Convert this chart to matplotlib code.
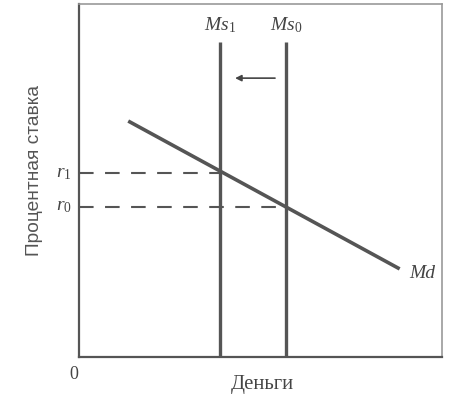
import matplotlib
matplotlib.use("Agg")
import matplotlib.pyplot as plt

# Data (abstract units, x: 0-10, y: 0-10)
ms_labels = ["Ms$_{\\mathrm{1}}$", "Ms$_{\\mathrm{0}}$"]
ms_x = [3.88, 5.70]
ms_top = 8.92
md_x = [1.40, 8.79]
md_y = [6.66, 2.52]
r_labels = ["r$_{\\mathrm{1}}$", "r$_{\\mathrm{0}}$"]
r_vals = [5.21, 4.25]
arrow_from = 5.40
arrow_to = 4.30
arrow_y = 7.90

plt.rcParams['mathtext.fontset'] = 'custom'
plt.rcParams['mathtext.rm'] = 'Liberation Serif'
plt.rcParams['mathtext.it'] = 'Liberation Serif:italic'

fig = plt.figure(figsize=(4.51, 4.00), dpi=100)
ax = fig.add_axes([79/451, 43/400, 363/451, 353/400])
ax.set_xlim(0, 10)
ax.set_ylim(0, 10)
ax.set_xticks([])
ax.set_yticks([])
for s in ['left', 'bottom']:
    ax.spines[s].set_color('#555555')
    ax.spines[s].set_linewidth(1.6)
for s in ['top', 'right']:
    ax.spines[s].set_color('#999999')
    ax.spines[s].set_linewidth(1.2)

line_col = '#555555'
for x in ms_x:
    ax.plot([x, x], [0, ms_top], color=line_col, lw=2.4, solid_capstyle='butt', clip_on=False)
ax.plot(md_x, md_y, color=line_col, lw=2.6)

for xv, rv in zip(ms_x, r_vals):
    ax.plot([0, xv], [rv, rv], color=line_col, lw=1.5, dashes=(7, 5.5))

ax.annotate('', xy=(arrow_to, arrow_y), xytext=(arrow_from, arrow_y),
            arrowprops=dict(arrowstyle='-|>', color='#444444', lw=1.2,
                            mutation_scale=9, shrinkA=0, shrinkB=0))

serif = 'Liberation Serif'
for lab, x in zip(ms_labels, ms_x):
    ax.text(x, ms_top + 0.2, lab, ha='center', va='bottom', fontsize=14,
            family=serif, style='italic', color='#444444')
ax.text(md_x[1] + 0.3, md_y[1] - 0.15, 'Md', ha='left', va='center', fontsize=14,
        family=serif, style='italic', color='#444444')
for lab, rv in zip(r_labels, r_vals):
    ax.text(-0.2, rv, lab, ha='right', va='center', fontsize=14,
            family=serif, style='italic', color='#444444')
ax.text(-0.15, -0.25, '0', ha='center', va='top', fontsize=13, family=serif, color='#444444')
fig.text(262/451, 1 - 385/400, 'Деньги', ha='center', va='center', fontsize=14.8,
         family=serif, color='#444444')
fig.text(35/451, 1 - 171/400, 'Процентная ставка', ha='center', va='center',
         rotation=90, fontsize=13.8, family='Liberation Sans', color='#555555')

fig.savefig('out.png', dpi=100)
